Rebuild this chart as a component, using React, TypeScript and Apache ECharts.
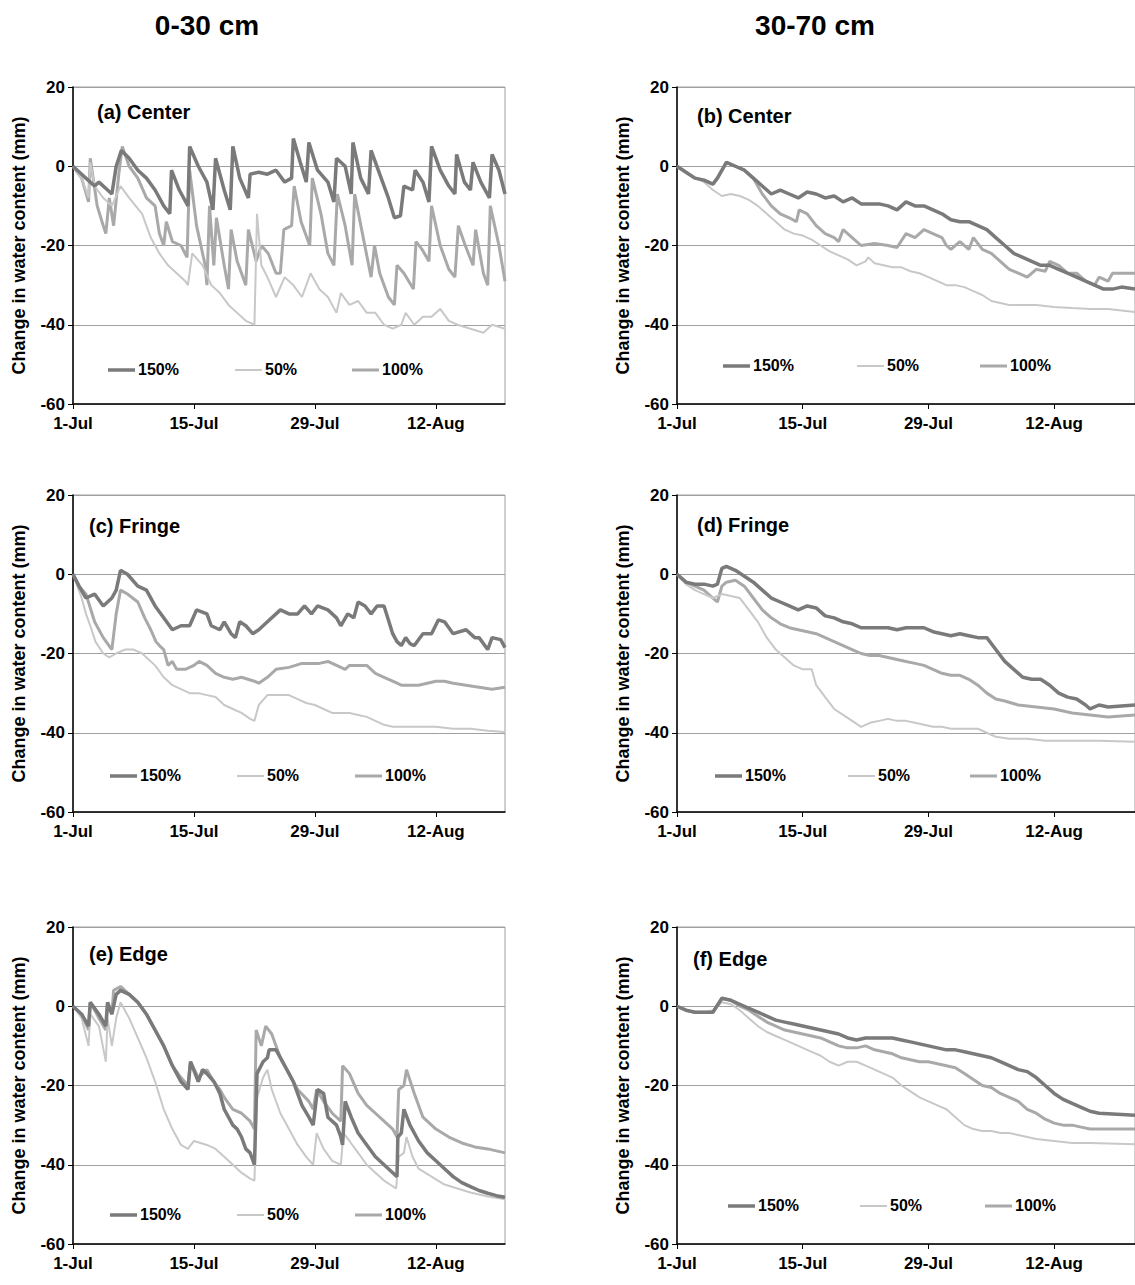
import React, { useEffect, useRef } from 'react';
import * as echarts from 'echarts';

type Pt = [number, number];

// x = days since 1-Jul, y = change in water content (mm)
const a150: Pt[] = [[0,0],[1,-2],[2,-4],[2.5,-5],[3,-4],[4,-6],[4.5,-7],[5,0],[5.6,4],[6.5,2],[7.5,-1],[8.5,-3],[9.5,-6],[10.5,-10],[11.2,-12],[11.4,-1],[12.3,-6],[13.3,-10],[13.5,5],[14.5,0],[15.5,-4],[16.2,-11],[16.5,2],[17.5,-6],[18.2,-11],[18.5,5],[19.3,-3],[20.3,-8],[20.5,-2],[21.5,-1.5],[22.5,-2],[23.5,-1],[24.5,-4],[25.3,-3],[25.5,7],[26.3,1],[27,-4],[27.3,6],[28.3,-1],[29.5,-4],[30.2,-9],[30.5,2],[31.5,0],[32.2,-7],[32.4,6],[33.3,-3],[34.2,-7],[34.5,4],[35.5,-2],[36.5,-8],[37.2,-13],[37.9,-12.5],[38.3,-5],[39.3,-6],[39.6,-1],[40.5,-4],[41.2,-9],[41.5,5],[42.5,-1],[43.5,-5],[44.2,-7],[44.4,3],[45.3,-4],[46,-6],[46.3,1],[47.2,-4],[48.2,-8],[48.5,3],[49.3,-1],[50,-7]];
const a50: Pt[] = [[0,0],[1,-3],[1.8,-8],[2,1],[2.5,-5],[3.5,-8],[4.5,-10],[5.5,-5],[6.5,-8],[8,-12],[9,-18],[10,-22],[11,-25],[12,-27],[13,-29],[13.3,-30],[13.8,-22],[15,-25],[16,-30],[17,-32],[18,-35],[19,-37],[20,-39],[21,-40],[21.3,-12],[21.8,-25],[22.5,-28],[23.5,-33],[24.5,-28],[25.5,-30],[26.5,-33],[27.5,-27],[28.5,-31],[29.5,-33],[30.5,-37],[31,-32],[32,-35],[33,-34],[34,-37],[35,-37],[36,-40],[37,-41],[38,-40],[38.5,-37],[39.5,-40],[40.5,-38],[41.5,-38],[42.5,-36],[43.5,-39],[44.5,-40],[46,-41],[47.5,-42],[48.5,-40],[50,-41]];
const a100: Pt[] = [[0,0],[1,-3],[1.8,-9],[2,2],[2.8,-10],[3.5,-15],[3.8,-17],[4.2,-8],[4.7,-15],[5.3,-2],[5.7,5],[6.5,0],[7.5,-3],[8.5,-8],[9.5,-10],[10,-17],[10.5,-20],[10.8,-14],[11.5,-19],[12.5,-20],[13.2,-23],[13.5,-1],[14.3,-15],[15.3,-25],[15.5,-30],[15.8,-10],[16.3,-25],[16.6,-13],[17.5,-25],[18,-31],[18.3,-16],[19,-24],[20,-30],[20.3,-16],[21.2,-24],[21.8,-20],[22.6,-22],[23.5,-27],[24,-27],[24.4,-16],[25.3,-15],[25.6,-5],[26.4,-14],[27.4,-20],[27.7,-3],[28.7,-12],[29.5,-22],[30.2,-25],[30.6,-7],[31.5,-15],[32.3,-25],[32.6,-7],[33.5,-17],[34.5,-28],[34.9,-20],[35.5,-27],[36.5,-33],[37.2,-35],[37.5,-25],[38.3,-27],[39.4,-31],[39.7,-19],[40.4,-21],[41.2,-24],[41.5,-10],[42.5,-20],[43.5,-26],[44.2,-28],[44.6,-15],[45.4,-20],[46.3,-25],[46.6,-16],[47.5,-27],[48,-30],[48.3,-10],[49.3,-20],[50,-29]];

const c150: Pt[] = [[0,0],[0.7,-3],[1.5,-6],[2.5,-5],[3.5,-8],[4.5,-6],[5,-4],[5.5,1],[6.3,0],[7.5,-3],[8.5,-4],[9.5,-8],[10.5,-11],[11.5,-14],[12.5,-13],[13.5,-13],[14.3,-9],[15.5,-10],[16,-13],[17,-14],[17.5,-12],[18.3,-15],[18.8,-16],[19.3,-12],[20,-13],[20.8,-15],[21.5,-14],[22.5,-12],[23.5,-10],[24,-9],[25,-10],[26,-10],[26.8,-8],[27.6,-10],[28.3,-8],[29.5,-9],[30.5,-11],[31,-13],[31.8,-10],[32.5,-11],[33,-7],[33.8,-8],[34.5,-10],[35.2,-8],[36,-8],[37,-15],[37.5,-17],[38,-18],[38.5,-16],[39,-17.5],[39.5,-18],[40.5,-15],[41.5,-15],[42.3,-11.5],[43,-12],[44,-15],[45.5,-14],[46.5,-16],[47,-16],[48,-19],[48.5,-16],[49.5,-16.5],[50,-18.5]];
const c50: Pt[] = [[0,0],[0.5,-3],[1,-6],[1.5,-10],[2,-13],[2.6,-17],[3.5,-20],[4.2,-21],[5,-20],[6,-19],[7,-19],[8,-20],[8.5,-21],[9.5,-23],[10.5,-26],[11.5,-28],[12.5,-29],[13.5,-30],[14.5,-30],[15.5,-30.5],[16.5,-31],[17.5,-33],[18.5,-34],[19.5,-35],[20.5,-36.5],[21,-37],[21.5,-33],[22.5,-30.5],[23.5,-30.5],[25,-30.5],[26,-31.5],[27,-32.5],[28,-33],[29,-34],[30,-35],[31,-35],[32,-35],[33,-35.5],[34,-36],[35,-37],[36,-38],[37,-38.5],[38,-38.5],[40,-38.5],[42,-38.5],[44,-39],[46,-39],[48,-39.5],[50,-39.8]];
const c100: Pt[] = [[0,0],[0.7,-3],[1.5,-5],[2.5,-12],[3.5,-16],[4.5,-19],[5,-10],[5.5,-4],[6.3,-5],[7.5,-7],[8.3,-11],[9,-14],[9.6,-17],[10,-18],[10.5,-19],[11,-23],[11.5,-22],[12,-24],[13,-24],[14,-23],[14.6,-22],[15.5,-23],[16.5,-25],[17.5,-26],[18.5,-26.5],[19.5,-26],[21,-27],[21.5,-27.5],[22.5,-26],[23.5,-24],[25,-23.5],[26.5,-22.5],[27.5,-22.5],[28.5,-22.5],[29.5,-22],[30.5,-23],[31.5,-24],[32,-23],[33,-23],[34,-23],[35,-25],[36,-26],[37,-27],[38,-28],[39,-28],[40,-28],[41,-27.5],[42,-27],[43,-27],[44,-27.5],[45.5,-28],[47,-28.5],[48.5,-29],[50,-28.5]];

const e150: Pt[] = [[0,0],[1,-2],[1.8,-5],[2,1],[3,-2],[3.8,-5],[4,1],[4.5,-2],[5,3],[5.5,4],[6.5,3],[7.5,1],[8.5,-2],[9.5,-6],[10.5,-10],[11.5,-15],[12.5,-19],[13.3,-21],[13.6,-14],[14.5,-19],[15,-16],[15.5,-17],[16.3,-19],[17,-22],[17.5,-26],[18.5,-30],[19,-31],[19.5,-33],[20,-36],[20.5,-37],[21,-40],[21.3,-17],[22,-14],[22.5,-13],[22.7,-11],[23.5,-11],[24.5,-15],[25.5,-19],[26.5,-25],[27.3,-28],[27.8,-30],[28.3,-21],[29,-22],[29.5,-28],[30.5,-30],[31,-33],[31.2,-35],[31.5,-24],[32.2,-28],[33,-32],[34,-35],[35,-38],[36,-40],[37,-42],[37.5,-43],[37.6,-33],[38,-32],[38.3,-26],[39,-30],[40,-34],[41,-37],[42,-39],[43,-41],[44,-43],[45,-44.5],[46,-45.5],[47,-46.5],[48,-47.2],[49,-47.8],[50,-48.2]];
const e50: Pt[] = [[0,0],[1,-3],[1.8,-10],[2,-2],[3,-5],[3.8,-14],[4,-3],[4.5,-10],[5,-3],[5.5,1],[6.5,-3],[7.5,-8],[8.5,-13],[9.5,-19],[10.5,-26],[11.5,-31],[12.5,-35],[13.3,-36],[14,-34],[15.5,-35],[16.5,-36],[17.5,-38],[18.5,-40],[19.5,-42],[20.5,-43.5],[21,-44],[21.3,-23],[22,-18],[22.5,-16],[23,-21],[24,-27],[25,-31],[26,-35],[27,-38],[27.8,-40],[28.2,-32],[29,-36],[30,-39],[31,-40],[31.3,-32],[32,-34],[33,-37],[34,-40],[35,-42],[36,-44],[37.4,-46],[37.7,-38],[38.3,-37],[38.6,-33],[39.3,-38],[40,-41],[41.5,-43],[43,-45],[44.5,-46],[46,-47],[48,-48],[50,-48.7]];
const e100: Pt[] = [[0,0],[1,-2],[1.8,-6],[2,1],[3,-3],[3.8,-6],[4,1],[4.5,-2],[4.7,4],[5.5,5],[6.5,3],[7.5,1],[8.5,-2],[9.5,-6],[10.5,-10],[11.5,-15],[12.5,-18],[13.3,-20],[13.6,-14],[14.5,-18],[15.5,-16],[16.3,-19],[17,-21],[17.5,-23],[18.5,-26],[19.5,-27],[20.5,-29],[21,-31],[21.2,-6],[21.8,-10],[22.3,-5],[23,-7],[24,-13],[25,-17],[26,-21],[27.3,-24],[27.8,-26],[28.2,-21],[29,-24],[30,-27],[31,-29],[31.2,-15],[32,-17],[33,-22],[34,-25],[35,-27],[36,-29],[37,-31],[37.5,-33],[37.7,-21],[38.3,-20],[38.6,-16],[39.5,-22],[40.5,-28],[42,-31],[43.5,-33],[45,-34.5],[46.5,-35.5],[48,-36],[50,-37]];

const b150: Pt[] = [[0,0],[1,-1.5],[2,-3],[3,-3.5],[4,-4.5],[4.5,-3],[5.5,1],[6.5,0],[7.5,-1],[8.5,-3],[9.5,-5],[10.5,-7],[11.5,-6],[12.5,-7],[13.5,-8],[14.5,-6.5],[15.5,-7],[16.5,-8],[17.5,-7.5],[18.5,-9],[19.5,-8],[20.5,-9.5],[21.5,-9.5],[22.5,-9.5],[23.5,-10],[24.5,-11],[25.5,-9],[26.5,-10],[27.5,-10],[28.5,-11],[29.5,-12],[30.5,-13.5],[31.5,-14],[32.5,-14],[33.5,-15],[34.5,-16],[35.5,-18],[36.5,-20],[37.5,-22],[38.5,-23],[39.5,-24],[40.5,-25],[41.5,-25],[42.5,-26],[43.5,-27],[44.5,-28],[45.5,-29],[46.5,-30],[47.5,-31],[48.5,-31],[49.5,-30.5],[51,-31]];
const b50: Pt[] = [[0,0],[1,-1.5],[2,-3],[3,-4],[4,-6],[5,-7.5],[6,-7],[7,-7.5],[8,-8.5],[9,-10],[10,-12],[11,-14],[12,-16],[13,-17],[14,-17.5],[15,-18.5],[16,-20],[17,-21.5],[18,-22.5],[19,-23.5],[20,-25],[21,-24],[21.3,-23],[22,-24.5],[23,-25],[24,-25.5],[25,-25.5],[26,-26.5],[27,-27],[28,-28],[29,-29],[30,-30],[31,-30],[32,-30.5],[33,-31.5],[34,-32.5],[35,-34],[36,-34.5],[37,-35],[38,-35],[40,-35],[42,-35.5],[44,-35.8],[46,-36],[48,-36],[51,-36.8]];
const b100: Pt[] = [[0,0],[1,-1.5],[2,-3],[3,-3.5],[4,-4.5],[4.5,-3],[5.5,1],[6.5,0],[7.5,-1],[8.5,-3],[9.5,-7],[10.5,-10],[11.5,-12],[12.5,-13],[13.3,-14],[13.6,-11],[14.5,-12],[15.5,-15],[16.5,-17],[17.5,-18],[18,-19],[18.5,-16],[19.5,-18],[20.5,-20],[22,-19.5],[23.5,-20],[24.5,-20.5],[25.5,-17],[26.5,-18],[27.5,-16],[28.5,-17],[29.5,-18],[30,-20],[30.5,-21],[31.5,-19],[32.5,-21],[33,-18],[34,-21],[35,-22],[36,-24],[37,-26],[38,-27],[39,-28],[40,-26],[41,-26.5],[41.5,-24],[42.5,-25],[43.5,-27],[44.5,-27],[45.5,-29],[46.5,-30],[47,-28],[48,-29],[48.5,-27],[51,-27]];

const d150: Pt[] = [[0,0],[1,-2],[2,-2.5],[3,-2.5],[4,-3],[4.5,-2.5],[5,1.5],[5.5,2],[6.5,1],[7.5,-0.5],[8.5,-2],[9.5,-4],[10.5,-6],[11.5,-7],[12.5,-8],[13.5,-9],[14.5,-8],[15.5,-8.5],[16.5,-10.5],[17.5,-11],[18.5,-12],[19.5,-12.5],[20.5,-13.5],[21.5,-13.5],[22.5,-13.5],[23.5,-13.5],[24.5,-14],[25.5,-13.5],[26.5,-13.5],[27.5,-13.5],[28.5,-14.5],[29.5,-15],[30.5,-15.5],[31.5,-15],[32.5,-15.5],[33.5,-16],[34.5,-16],[35.5,-19],[36.5,-22],[37.5,-24],[38.5,-26],[39.5,-26.5],[40.5,-26.5],[41.5,-28],[42.5,-30],[43.5,-31],[44.5,-31.5],[45.5,-33],[46,-34],[47,-33],[48,-33.5],[51,-33]];
const d50: Pt[] = [[0,0],[1,-2.5],[2,-4],[3,-5],[4,-6],[5,-5],[6,-5.5],[7,-6],[8,-9],[9,-12],[10,-16],[11,-19],[12,-21],[13,-23],[14,-24],[15,-24],[15.5,-28],[16.5,-31],[17.5,-34],[18.5,-35.5],[19.5,-37],[20.5,-38.5],[21.5,-37.5],[22.5,-37],[23.5,-36.5],[24.5,-37],[25.5,-37],[26.5,-37.5],[27.5,-38],[28.5,-38.5],[29.5,-38.5],[30.5,-39],[31.5,-39],[32.5,-39],[33.5,-39],[34.5,-40],[35.5,-41],[37,-41.5],[39,-41.5],[41,-42],[43,-42],[45,-42],[47,-42],[51,-42.3]];
const d100: Pt[] = [[0,0],[1,-2],[2,-3],[3,-4],[4,-6],[4.5,-7],[5,-3],[5.5,-2],[6.5,-1.5],[7.5,-3],[8.5,-6],[9.5,-9],[10.5,-11],[11.5,-12.5],[12.5,-13.5],[13.5,-14],[14.5,-14.5],[15.5,-15],[16.5,-16],[17.5,-17],[18.5,-18],[19.5,-19],[20.5,-20],[21.5,-20.5],[22.5,-20.5],[23.5,-21],[24.5,-21.5],[25.5,-22],[26.5,-22.5],[27.5,-23],[28.5,-24],[29.5,-25],[30.5,-25.5],[31.5,-25.5],[32.5,-26.5],[33.5,-28],[34.5,-30],[35.5,-31.5],[36.5,-32],[38,-33],[40,-33.5],[42,-34],[44,-35],[46,-35.5],[48,-36],[51,-35.5]];

const f150: Pt[] = [[0,0],[1,-1],[2,-1.5],[3,-1.5],[4,-1.5],[5,2],[6,1.5],[7,0.5],[8,-0.5],[9,-1.5],[10,-2.5],[11,-3.5],[12,-4],[13,-4.5],[14,-5],[15,-5.5],[16,-6],[17,-6.5],[18,-7],[19,-8],[20,-8.5],[21,-8],[22,-8],[23,-8],[24,-8],[25,-8.5],[26,-9],[27,-9.5],[28,-10],[29,-10.5],[30,-11],[31,-11],[32,-11.5],[33,-12],[34,-12.5],[35,-13],[36,-14],[37,-15],[38,-16],[39,-16.5],[40,-18],[41,-20],[42,-22],[43,-23.5],[44,-24.5],[45,-25.5],[46,-26.5],[47,-27],[51,-27.5]];
const f50: Pt[] = [[0,0],[1,-1],[2,-1.5],[3,-1.5],[4,-1],[5,1],[6,0.5],[7,-1],[8,-3],[9,-5],[10,-6.5],[11,-7.5],[12,-8.5],[13,-9.5],[14,-10.5],[15,-11.5],[16,-12.5],[17,-14],[18,-15],[19,-14],[20,-14],[21,-15],[22,-16],[23,-17],[24,-18],[25,-20],[26,-21.5],[27,-23],[28,-24],[29,-25],[30,-26],[31,-28],[32,-30],[33,-31],[34,-31.5],[35,-31.5],[36,-32],[37,-32],[38,-32.5],[39,-33],[40,-33.5],[42,-34],[44,-34.5],[46,-34.5],[51,-34.8]];
const f100: Pt[] = [[0,0],[1,-1],[2,-1.5],[3,-1.5],[4,-1.5],[5,2],[6,1.5],[7,0],[8,-1],[9,-2.5],[10,-4],[11,-5],[12,-6],[13,-6.5],[14,-7],[15,-7.5],[16,-8],[17,-9],[18,-10],[19,-10.5],[20,-10.5],[21,-10],[22,-11],[23,-11.5],[24,-12],[25,-13],[26,-13.5],[27,-14],[28,-14],[29,-14.5],[30,-15],[31,-15.5],[32,-17],[33,-18.5],[34,-20],[35,-20.5],[36,-22],[37,-23],[38,-24],[39,-26],[40,-27],[41,-28.5],[42,-29.5],[43,-30],[44,-30],[45,-30.5],[46,-31],[51,-31]];

const xTickLabels: Record<number, string> = { 0: '1-Jul', 14: '15-Jul', 28: '29-Jul', 42: '12-Aug' };
const seriesNames = ['150%', '50%', '100%'];
const columnTitles = ['0-30 cm', '30-70 cm'];

const FONT = 'Liberation Sans, Arial, sans-serif';

const lineStyles = [
  { color: '#7a7a7a', width: 3.5 },
  { color: '#c8c8c8', width: 2 },
  { color: '#a9a9a9', width: 3 },
];

interface Panel {
  label: string;
  data: Pt[][];
  left: number;
  top: number;
  width: number;
  xMax: number;
  legendY: number;
  legendX: number[];
  titleX: number;
  titleY: number;
}

const panels: Panel[] = [
  { label: '(a) Center', data: [a150, a50, a100], left: 73, top: 87, width: 432, xMax: 50, legendY: 370, legendX: [108, 235, 352], titleX: 97, titleY: 113 },
  { label: '(b) Center', data: [b150, b50, b100], left: 677, top: 87, width: 462, xMax: 51, legendY: 366, legendX: [723, 857, 980], titleX: 697, titleY: 117 },
  { label: '(c) Fringe', data: [c150, c50, c100], left: 73, top: 495, width: 432, xMax: 50, legendY: 776, legendX: [110, 237, 355], titleX: 89, titleY: 527 },
  { label: '(d) Fringe', data: [d150, d50, d100], left: 677, top: 495, width: 462, xMax: 51, legendY: 776, legendX: [715, 848, 970], titleX: 697, titleY: 526 },
  { label: '(e) Edge', data: [e150, e50, e100], left: 73, top: 927, width: 432, xMax: 50, legendY: 1215, legendX: [110, 237, 355], titleX: 89, titleY: 955 },
  { label: '(f) Edge', data: [f150, f50, f100], left: 677, top: 927, width: 462, xMax: 51, legendY: 1206, legendX: [728, 860, 985], titleX: 693, titleY: 960 },
];

const App: React.FC = () => {
  const chartRef = useRef<HTMLDivElement>(null);

  useEffect(() => {
    if (!chartRef.current) return;
    const chart = echarts.init(chartRef.current, undefined, { renderer: 'svg' });

    const grid: any[] = [];
    const xAxis: any[] = [];
    const yAxis: any[] = [];
    const series: any[] = [];
    const graphic: any[] = [];

    panels.forEach((p, i) => {
      grid.push({
        left: p.left, top: p.top, width: p.width, height: 317,
        show: true, borderColor: '#a0a0a0', borderWidth: 1,
      });
      xAxis.push({
        type: 'value', gridIndex: i, min: 0, max: p.xMax, interval: 14,
        axisLine: { onZero: false, lineStyle: { color: '#000', width: 1.5 } },
        axisTick: { show: true, length: 5, lineStyle: { color: '#000' } },
        splitLine: { show: false },
        axisLabel: {
          formatter: (v: number) => xTickLabels[v] ?? '',
          color: '#000', fontFamily: FONT, fontWeight: 'bold', fontSize: 17, margin: 11,
          showMaxLabel: false,
        },
      });
      yAxis.push({
        type: 'value', gridIndex: i, min: -60, max: 20, interval: 20,
        name: 'Change in water content (mm)', nameLocation: 'middle', nameGap: 45,
        nameTextStyle: { color: '#000', fontFamily: FONT, fontWeight: 'bold', fontSize: 18 },
        axisLine: { show: true, lineStyle: { color: '#000', width: 1.5 } },
        axisTick: { show: true, length: 5, lineStyle: { color: '#000' } },
        splitLine: { show: true, lineStyle: { color: '#a0a0a0', width: 1 } },
        axisLabel: { color: '#000', fontFamily: FONT, fontWeight: 'bold', fontSize: 17, margin: 8 },
      });
      p.data.forEach((d, k) => {
        series.push({
          type: 'line', name: seriesNames[k], xAxisIndex: i, yAxisIndex: i,
          data: d, showSymbol: false, z: 10 - k,
          lineStyle: lineStyles[k],
        });
      });
      graphic.push({
        type: 'text', left: p.titleX, top: p.titleY - 11,
        style: { text: p.label, font: `bold 20px ${FONT}`, fill: '#000' },
      });
      seriesNames.forEach((n, k) => {
        const x = p.legendX[k];
        graphic.push({
          type: 'line', shape: { x1: x, y1: p.legendY, x2: x + 27, y2: p.legendY },
          style: { stroke: lineStyles[k].color, lineWidth: lineStyles[k].width },
        });
        graphic.push({
          type: 'text', left: x + 30, top: p.legendY - 9,
          style: { text: n, font: `bold 16px ${FONT}`, fill: '#000' },
        });
      });
    });

    graphic.push({
      type: 'text', x: 207, y: 25, style: { text: columnTitles[0], font: `bold 28px ${FONT}`, fill: '#000', align: 'center', verticalAlign: 'middle' },
    });
    graphic.push({
      type: 'text', x: 815, y: 25, style: { text: columnTitles[1], font: `bold 28px ${FONT}`, fill: '#000', align: 'center', verticalAlign: 'middle' },
    });

    chart.setOption({
      animation: false,
      backgroundColor: '#fff',
      grid, xAxis, yAxis, series, graphic,
    } as any);

    return () => {
      chart.dispose();
    };
  }, []);

  return (
    <div style={{ position: 'fixed', left: 0, top: 0, width: 1135, height: 1285, overflow: 'hidden', background: '#fff' }}>
      <div ref={chartRef} style={{ width: 1135, height: 1285 }} />
    </div>
  );
};

export default App;
